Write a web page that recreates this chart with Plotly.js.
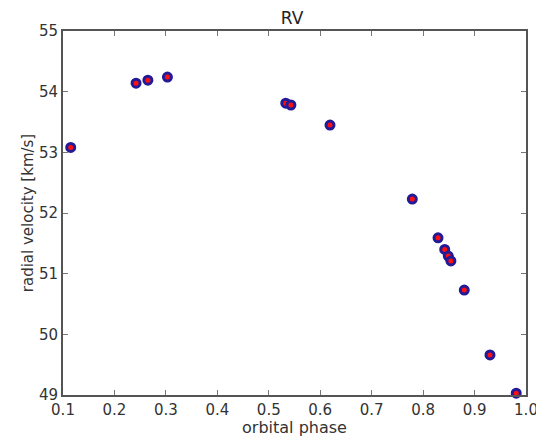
<!DOCTYPE html>
<html>
<head>
<meta charset="utf-8">
<script src="https://cdn.plot.ly/plotly-3.0.1.min.js"></script>
<style>html,body{margin:0;padding:0;background:#fff;overflow:hidden;}#chart{width:536px;height:437px;}</style>
</head>
<body>
<div id="chart"></div>
<script>
const phase = [0.115, 0.242, 0.265, 0.303, 0.533, 0.543, 0.619, 0.779, 0.829, 0.842, 0.849, 0.854, 0.880, 0.930, 0.981];
const rv = [53.08, 54.14, 54.19, 54.24, 53.81, 53.78, 53.45, 52.23, 51.59, 51.40, 51.29, 51.21, 50.73, 49.66, 49.03];
const xTicks = [0.1, 0.2, 0.3, 0.4, 0.5, 0.6, 0.7, 0.8, 0.9, 1.0];
const xTickText = ['0.1', '0.2', '0.3', '0.4', '0.5', '0.6', '0.7', '0.8', '0.9', '1.0'];
const yTicks = [49, 50, 51, 52, 53, 54, 55];

const fam = 'DejaVu Sans, sans-serif';
const tickFont = {family: fam, size: 15, color: '#333'};
const axisCommon = {
  showgrid: false, zeroline: false, showline: true, linecolor: '#555', linewidth: 2,
  mirror: 'ticks', ticks: 'inside', ticklen: 5, tickwidth: 1, tickcolor: '#777',
  tickfont: tickFont, ticklabeloverflow: 'allow'
};
Plotly.newPlot('chart', [{
  x: phase, y: rv, type: 'scatter', mode: 'markers', cliponaxis: false,
  marker: {size: 8, color: '#ff1010', line: {color: '#221a96', width: 3}},
  hoverinfo: 'skip'
}], {
  width: 536, height: 437,
  margin: {l: 63, r: 10, t: 31, b: 42},
  paper_bgcolor: '#fff', plot_bgcolor: '#fff',
  showlegend: false,
  title: {text: 'RV', font: {family: fam, size: 17, color: '#222'}, x: 0.545, xanchor: 'center', y: 0.958, yanchor: 'middle'},
  xaxis: Object.assign({}, axisCommon, {
    range: [0.1, 1.0], tickvals: xTicks, ticktext: xTickText, ticklabelstandoff: 0,
    title: {text: 'orbital phase', font: {family: fam, size: 16, color: '#333'}, standoff: 0}
  }),
  yaxis: Object.assign({}, axisCommon, {
    range: [49, 55], tickvals: yTicks, ticklabelstandoff: 0,
    title: {text: 'radial velocity [km/s]', font: {family: fam, size: 15, color: '#333'}, standoff: 2}
  })
}, {staticPlot: true});
</script>
</body>
</html>
